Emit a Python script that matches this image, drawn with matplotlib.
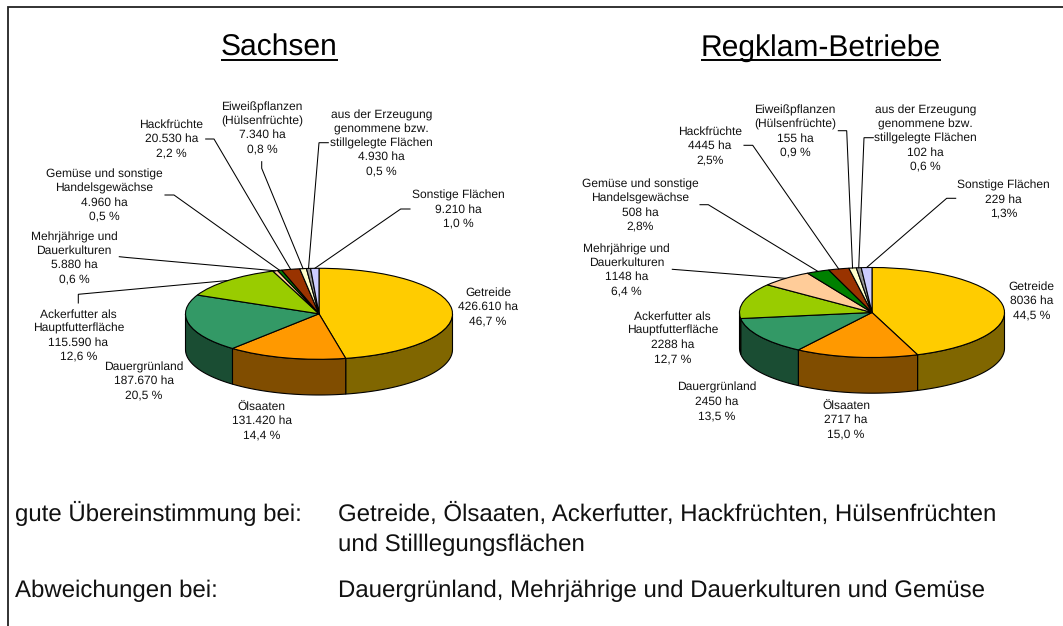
import numpy as np
import matplotlib
matplotlib.use('Agg')
import matplotlib.pyplot as plt
from matplotlib.colors import to_rgb

plt.rcParams['font.family'] = ['Liberation Sans', 'DejaVu Sans']
plt.rcParams['text.hinting'] = 'no_hinting'
plt.rcParams['text.hinting_factor'] = 1

categories = ['Getreide', 'Ölsaaten', 'Dauergrünland', 'Ackerfutter als\nHauptfutterfläche',
              'Mehrjährige und\nDauerkulturen', 'Gemüse und sonstige\nHandelsgewächse', 'Hackfrüchte',
              'Eiweißpflanzen\n(Hülsenfrüchte)', 'aus der Erzeugung\ngenommene bzw.\nstillgelegte Flächen',
              'Sonstige Flächen']
colors = ['#FFCC00', '#FF9900', '#339966', '#99CC00', '#FFCC99', '#008000', '#993300', '#FFFFCC', '#969696', '#CCCCFF']

share_sachsen = [46.7, 14.4, 20.5, 12.6, 0.6, 0.5, 2.2, 0.8, 0.5, 1.0]
ha_sachsen = ['426.610', '131.420', '187.670', '115.590', '5.880', '4.960', '20.530', '7.340', '4.930', '9.210']
pct_sachsen = ['46,7 %', '14,4 %', '20,5 %', '12,6 %', '0,6 %', '0,5 %', '2,2 %', '0,8 %', '0,5 %', '1,0 %']

share_regklam = [44.5, 15.0, 13.5, 12.7, 6.4, 2.8, 2.5, 0.9, 0.6, 1.3]
ha_regklam = ['8036', '2717', '2450', '2288', '1148', '508', '4445', '155', '102', '229']
pct_regklam = ['44,5 %', '15,0 %', '13,5 %', '12,7 %', '6,4 %', '2,8%', '2,5%', '0,9 %', '0,6 %', '1,3%']

# label centres in pixels
pos_sachsen = [(488, 306.7), (261.7, 420.3), (144, 380.7), (78.3, 335), (74, 257.7),
               (104.3, 195), (171.3, 138.3), (262, 127.7), (381.7, 142.7), (458.7, 209)]
pos_regklam = [(1031.3, 300.3), (846, 419.3), (717, 401.3), (672.3, 337.3), (626.7, 269.7),
               (640.3, 205), (710, 145.3), (795, 131), (925.3, 138), (1003.7, 199)]

# leader start and elbow, slice index -> pixels
lead_sachsen = {3: [(78.3, 303), (78.3, 294.3)], 4: [(119.3, 256.7), (127, 257.5)], 5: [(165, 195), (174, 195)],
                6: [(205.7, 139), (214, 139)], 7: [(261.7, 161.7), (261.7, 168.3)],
                8: [(328.3, 142.7), (319, 142.7)], 9: [(410, 209), (400.7, 209)]}
lead_regklam = {4: [(672.3, 269.3), (681.3, 270)], 5: [(700, 204.7), (708.3, 204.7)],
                6: [(744, 145.3), (752.7, 145.3)], 7: [(838.3, 130.7), (846.7, 130.7)],
                8: [(873.3, 137.7), (864, 137.7)], 9: [(955.7, 198.3), (946.7, 198.3)]}

W, H = 1063, 626
fig = plt.figure(figsize=(W / 100, H / 100), dpi=100, facecolor='white')

over = fig.add_axes([0, 0, 1, 1], zorder=5)
over.set_xlim(0, W)
over.set_ylim(H, 0)
over.axis('off')


def draw_pie(share, ha, pct, pos, lead, cx, cy, rx, ry, depth):
    ax = fig.add_axes([(cx - rx) / W, 1 - (cy + ry + depth) / H, 2 * rx / W, (2 * ry + depth) / H])
    ax.pie(share, colors=colors, startangle=90, counterclock=False, radius=1,
           wedgeprops={'edgecolor': 'black', 'linewidth': 0.8})
    ax.set_aspect('auto')
    d = depth / ry
    ax.set_xlim(-1, 1)
    ax.set_ylim(-1 - d, 1)

    # side wall, only the front half of the rim shows
    edges = np.cumsum([0] + share) / sum(share) * 360
    for i in range(len(share)):
        a = max(edges[i], 90)
        b = min(edges[i + 1], 270)
        if b <= a:
            continue
        t = np.radians(np.linspace(a, b, 80))
        xs = np.sin(t)
        ys = np.cos(t)
        ax.fill(np.r_[xs, xs[::-1]], np.r_[ys, ys[::-1] - d], facecolor=np.array(to_rgb(colors[i])) * 0.5,
                edgecolor='black', linewidth=0.8, clip_on=False, zorder=0)

    for i, name in enumerate(categories):
        over.text(pos[i][0], pos[i][1] + 0.5, f'{name}\n{ha[i]} ha\n{pct[i]}', ha='center', va='center',
                  fontsize=8.85, linespacing=1.33, color='#111111', clip_on=False)
        if i in lead:
            mid = np.radians((edges[i] + edges[i + 1]) / 2)
            pts = lead[i] + [(cx + rx * np.sin(mid), cy - ry * np.cos(mid))]
            over.plot([p[0] for p in pts], [p[1] for p in pts], color='black', lw=0.75, solid_joinstyle='miter')


draw_pie(share_sachsen, ha_sachsen, pct_sachsen, pos_sachsen, lead_sachsen, 319, 313.8, 133.5, 45.5, 35.7)
draw_pie(share_regklam, ha_regklam, pct_regklam, pos_regklam, lead_regklam, 872, 312.5, 132.5, 45, 35.7)

# frame, only top and left are in the picture
over.plot([8, 8, W], [H, 7.3, 7.3], color='#222222', lw=1.3, solid_joinstyle='miter')

renderer = fig.canvas.get_renderer()
for title, tx in [('Sachsen', 279.5), ('Regklam-Betriebe', 821)]:
    t = over.text(tx, 56, title, ha='center', va='baseline', fontsize=21.4, color='black')
    box = t.get_window_extent(renderer)
    over.plot([box.x0, box.x1], [59.7, 59.7], color='black', lw=1.4, solid_capstyle='butt')

notes = [(15, 521, 'gute Übereinstimmung bei:'),
         (338, 521, 'Getreide, Ölsaaten, Ackerfutter, Hackfrüchten, Hülsenfrüchten'),
         (338, 551, 'und Stilllegungsflächen'),
         (15, 597, 'Abweichungen bei:'),
         (338, 597, 'Dauergrünland, Mehrjährige und Dauerkulturen und Gemüse')]
for x, y, s in notes:
    over.text(x, y, s, ha='left', va='baseline', fontsize=17.3, color='#111111')

fig.savefig('out.png', dpi=100, facecolor='white')
